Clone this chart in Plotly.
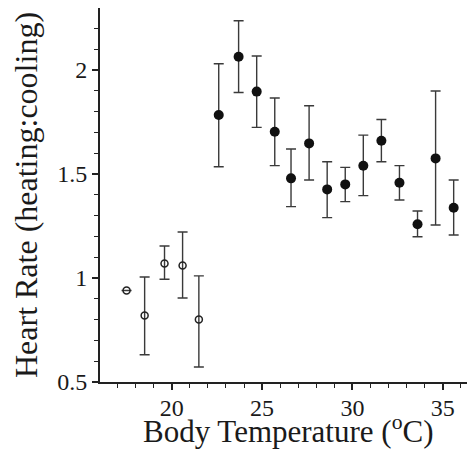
import plotly.graph_objects as go

# open circles (low temperatures)
open_x = [17.5, 18.5, 19.6, 20.6, 21.5]
open_y = [0.94, 0.82, 1.07, 1.06, 0.80]
open_top = [0.94, 1.005, 1.154, 1.221, 1.01]
open_bottom = [0.94, 0.631, 0.994, 0.904, 0.572]

# filled circles
fill_x = [22.6, 23.7, 24.7, 25.7, 26.6, 27.6, 28.6, 29.6, 30.6, 31.6, 32.6, 33.6, 34.6, 35.6]
fill_y = [1.784, 2.064, 1.896, 1.703, 1.479, 1.647, 1.426, 1.45, 1.54, 1.66, 1.458, 1.258, 1.575, 1.338]
fill_top = [2.03, 2.237, 2.067, 1.865, 1.62, 1.828, 1.559, 1.532, 1.687, 1.762, 1.54, 1.322, 1.899, 1.471]
fill_bottom = [1.535, 1.892, 1.724, 1.54, 1.343, 1.471, 1.29, 1.367, 1.396, 1.559, 1.375, 1.198, 1.255, 1.207]

x_ticks = [20, 25, 30, 35]
y_ticks = [0.5, 1, 1.5, 2]
y_tick_labels = ["0.5", "1", "1.5", "2"]
x_title = "Body Temperature (<sup>o</sup>C)"
y_title = "Heart Rate (heating:cooling)"

FONT = "Liberation Serif"
ebc = "#3a3a3a"

fig = go.Figure()
fig.add_trace(go.Scatter(
    x=open_x, y=open_y, mode="markers",
    marker=dict(symbol="circle-open", size=7, color="#222", line=dict(width=1.5)),
    error_y=dict(type="data", symmetric=False,
                 array=[t - v for t, v in zip(open_top, open_y)],
                 arrayminus=[v - b for v, b in zip(open_y, open_bottom)],
                 color=ebc, thickness=1.4, width=5),
    showlegend=False,
))
fig.add_trace(go.Scatter(
    x=fill_x, y=fill_y, mode="markers",
    marker=dict(symbol="circle", size=10, color="#111"),
    error_y=dict(type="data", symmetric=False,
                 array=[t - v for t, v in zip(fill_top, fill_y)],
                 arrayminus=[v - b for v, b in zip(fill_y, fill_bottom)],
                 color=ebc, thickness=1.4, width=5),
    showlegend=False,
))

fig.add_annotation(
    text=x_title, xref="paper", yref="paper", x=0.5, y=-0.128,
    xanchor="center", yanchor="middle", showarrow=False,
    font=dict(family=FONT, size=31, color="#1a1a1a"),
)

fig.update_layout(
    width=467, height=448,
    margin=dict(l=92, r=0, t=0, b=74),
    paper_bgcolor="white", plot_bgcolor="white",
    font=dict(family=FONT, color="#1a1a1a", size=24),
    xaxis=dict(
        range=[16.03, 36.78], tickvals=x_ticks, ticks="outside", ticklen=6, tickwidth=1.5,
        tickcolor="#222", showline=True, linecolor="#222", linewidth=2, mirror=True,
        showgrid=False, zeroline=False, automargin=False, ticklabelstandoff=-3,
        minor=dict(dtick=1, ticks="outside", ticklen=4, tickwidth=1.2, tickcolor="#222"),
        tickfont=dict(size=24),
    ),
    yaxis=dict(
        range=[0.5, 2.298], tickvals=y_ticks, ticktext=y_tick_labels, ticks="outside",
        ticklen=6, tickwidth=1.5, tickcolor="#222", showline=True, linecolor="#222",
        linewidth=2, mirror=False, showgrid=False, zeroline=False, automargin=False,
        minor=dict(dtick=0.1, ticks="outside", ticklen=4, tickwidth=1.2, tickcolor="#222"),
        title=dict(text=y_title, font=dict(size=32), standoff=18),
        tickfont=dict(size=24),
    ),
)

fig.write_html("out.html")
